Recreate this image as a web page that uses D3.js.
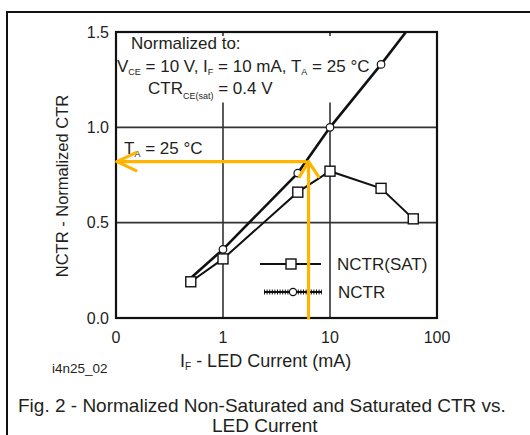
<!DOCTYPE html>
<html>
<head>
<meta charset="utf-8">
<script src="https://cdn.jsdelivr.net/npm/d3@7"></script>
<style>
  html, body { margin: 0; padding: 0; background: #fff; }
  svg { display: block; font-family: "Liberation Sans", Arial, sans-serif; }
  text { fill: #231f20; }
</style>
</head>
<body>
<svg id="chart" width="530" height="435"></svg>
<script>
// data
const currentSat = [0.5, 1, 5, 10, 30, 60];
const nctrSat = [0.19, 0.31, 0.66, 0.77, 0.68, 0.52];
const currentNonSat = [0.5, 1, 5, 10, 30, 60];
const nctrNonSat = [0.21, 0.36, 0.76, 1.0, 1.33, 1.55];
const xTicks = [0.1, 1, 10, 100];
const xTickLabels = ["0", "1", "10", "100"];
const yTicks = [0, 0.5, 1.0, 1.5];
const yTickLabels = ["0.0", "0.5", "1.0", "1.5"];
const arrowPoint = { current: 6.3, nctr: 0.82 };

const svg = d3.select("#chart");
const plot = { left: 116, top: 32, right: 437, bottom: 318 };

const x = d3.scaleLog().domain([0.1, 100]).range([plot.left, plot.right]);
const y = d3.scaleLinear().domain([0, 1.5]).range([plot.bottom, plot.top]);

// outer frame (runs off the page to the right and bottom)
svg.append("rect")
  .attr("x", 7).attr("y", 12)
  .attr("width", 560).attr("height", 460)
  .attr("fill", "none").attr("stroke", "#111").attr("stroke-width", 2);

svg.append("defs").append("clipPath").attr("id", "clip")
  .append("rect")
  .attr("x", plot.left).attr("y", plot.top)
  .attr("width", plot.right - plot.left).attr("height", plot.bottom - plot.top);

// grid
const grid = svg.append("g").attr("stroke", "#333").attr("stroke-width", 1.6);
[0.5, 1.0].forEach(v => {
  grid.append("line")
    .attr("x1", plot.left).attr("x2", plot.right)
    .attr("y1", y(v)).attr("y2", y(v));
});
[1, 10].forEach(v => {
  grid.append("line")
    .attr("x1", x(v)).attr("x2", x(v))
    .attr("y1", y(1.13)).attr("y2", plot.bottom);
  grid.append("line")
    .attr("x1", x(v)).attr("x2", x(v))
    .attr("y1", plot.top).attr("y2", plot.top + 4);
});

// plot border
svg.append("rect")
  .attr("x", plot.left).attr("y", plot.top)
  .attr("width", plot.right - plot.left).attr("height", plot.bottom - plot.top)
  .attr("fill", "none").attr("stroke", "#111").attr("stroke-width", 2.2);

// tick labels
svg.append("g").selectAll("text").data(yTicks).join("text")
  .attr("x", 109).attr("y", d => y(d)).attr("dy", "0.36em")
  .attr("text-anchor", "end").attr("font-size", 16)
  .text((d, i) => yTickLabels[i]);

svg.append("g").selectAll("text").data(xTicks).join("text")
  .attr("x", d => x(d)).attr("y", 343)
  .attr("text-anchor", "middle").attr("font-size", 16)
  .text((d, i) => xTickLabels[i]);

// annotation text
const note = svg.append("g").attr("font-size", 17);
note.append("text").attr("x", 131).attr("y", 49).text("Normalized to:");
const l2 = note.append("text").attr("x", 117).attr("y", 72);
l2.append("tspan").text("V");
l2.append("tspan").attr("font-size", 9).attr("dy", 3).text("CE");
l2.append("tspan").attr("dy", -3).text(" = 10 V, I");
l2.append("tspan").attr("font-size", 9).attr("dy", 3).text("F");
l2.append("tspan").attr("dy", -3).text(" = 10 mA, T");
l2.append("tspan").attr("font-size", 9).attr("dy", 3).text("A");
l2.append("tspan").attr("dy", -3).text(" = 25 °C");
const l3 = note.append("text").attr("x", 148).attr("y", 94);
l3.append("tspan").text("CTR");
l3.append("tspan").attr("font-size", 9).attr("dy", 5).text("CE(sat)");
l3.append("tspan").attr("dy", -5).text(" = 0.4 V");
const l4 = note.append("text").attr("x", 124).attr("y", 154);
l4.append("tspan").text("T");
l4.append("tspan").attr("font-size", 9).attr("dy", 3).text("A");
l4.append("tspan").attr("dy", -3).text(" = 25 °C");

// series
const gData = svg.append("g").attr("clip-path", "url(#clip)");
const satPts = currentSat.map((c, i) => [c, nctrSat[i]]);
const nonPts = currentNonSat.map((c, i) => [c, nctrNonSat[i]]);
const line = d3.line().x(d => x(d[0])).y(d => y(d[1]));

gData.append("path").datum(satPts).attr("d", line)
  .attr("fill", "none").attr("stroke", "#111").attr("stroke-width", 2);
gData.append("path").datum(nonPts).attr("d", line)
  .attr("fill", "none").attr("stroke", "#111").attr("stroke-width", 2.6);

gData.selectAll(".sq").data(satPts).join("rect").attr("class", "sq")
  .attr("x", d => x(d[0]) - 5).attr("y", d => y(d[1]) - 5)
  .attr("width", 10).attr("height", 10)
  .attr("fill", "#fff").attr("stroke", "#111").attr("stroke-width", 1.4);
gData.selectAll(".ci").data(nonPts.filter(d => d[1] <= 1.5 && d[0] > 0.6)).join("circle").attr("class", "ci")
  .attr("cx", d => x(d[0])).attr("cy", d => y(d[1])).attr("r", 3.8)
  .attr("fill", "#fff").attr("stroke", "#111").attr("stroke-width", 1.2);

// legend
const lg = svg.append("g");
lg.append("line").attr("x1", 260).attr("x2", 321).attr("y1", 264).attr("y2", 264)
  .attr("stroke", "#111").attr("stroke-width", 2);
lg.append("rect").attr("x", 286).attr("y", 259).attr("width", 10).attr("height", 10)
  .attr("fill", "#fff").attr("stroke", "#111").attr("stroke-width", 1.4);
lg.append("line").attr("x1", 264).attr("x2", 322).attr("y1", 292).attr("y2", 292)
  .attr("stroke", "#111").attr("stroke-width", 2);
lg.append("line").attr("x1", 264).attr("x2", 322).attr("y1", 292).attr("y2", 292)
  .attr("stroke", "#111").attr("stroke-width", 5).attr("stroke-dasharray", "1,1.6");
lg.append("circle").attr("cx", 293).attr("cy", 292).attr("r", 3.6)
  .attr("fill", "#fff").attr("stroke", "#111").attr("stroke-width", 1.2);
lg.append("text").attr("x", 337).attr("y", 270).attr("font-size", 17).text("NCTR(SAT)");
lg.append("text").attr("x", 338).attr("y", 298).attr("font-size", 17).text("NCTR");

// orange arrows
const ax = x(arrowPoint.current), ay = y(arrowPoint.nctr);
const orange = svg.append("g").attr("stroke", "#FFB400").attr("stroke-width", 3.2)
  .attr("fill", "none").attr("stroke-linecap", "round").attr("stroke-linejoin", "round");
orange.append("line").attr("x1", ax).attr("y1", plot.bottom).attr("x2", ax).attr("y2", ay);
orange.append("polyline").attr("points", `${ax - 9},${ay + 15} ${ax},${ay} ${ax + 10},${ay + 15}`);
orange.append("line").attr("x1", ax - 3).attr("y1", ay).attr("x2", plot.left + 1).attr("y2", ay);
orange.append("polyline").attr("points", `${plot.left + 20},${ay - 9} ${plot.left + 1},${ay} ${plot.left + 20},${ay + 9}`);

// axis titles
svg.append("text")
  .attr("transform", "translate(68,186) rotate(-90)")
  .attr("text-anchor", "middle").attr("font-size", 16.5)
  .text("NCTR - Normalized CTR");

const xt = svg.append("text").attr("x", 180).attr("y", 367).attr("font-size", 18);
xt.append("tspan").text("I");
xt.append("tspan").attr("font-size", 10).attr("dy", 3).text("F");
xt.append("tspan").attr("dy", -3).text(" - LED Current (mA)");

svg.append("text").attr("x", 52).attr("y", 373).attr("font-size", 13.5).text("i4n25_02");

svg.append("text").attr("x", 18).attr("y", 412).attr("font-size", 19)
  .text("Fig. 2 - Normalized Non-Saturated and Saturated CTR vs.");
svg.append("text").attr("x", 212).attr("y", 432).attr("font-size", 19)
  .text("LED Current");
</script>
</body>
</html>
